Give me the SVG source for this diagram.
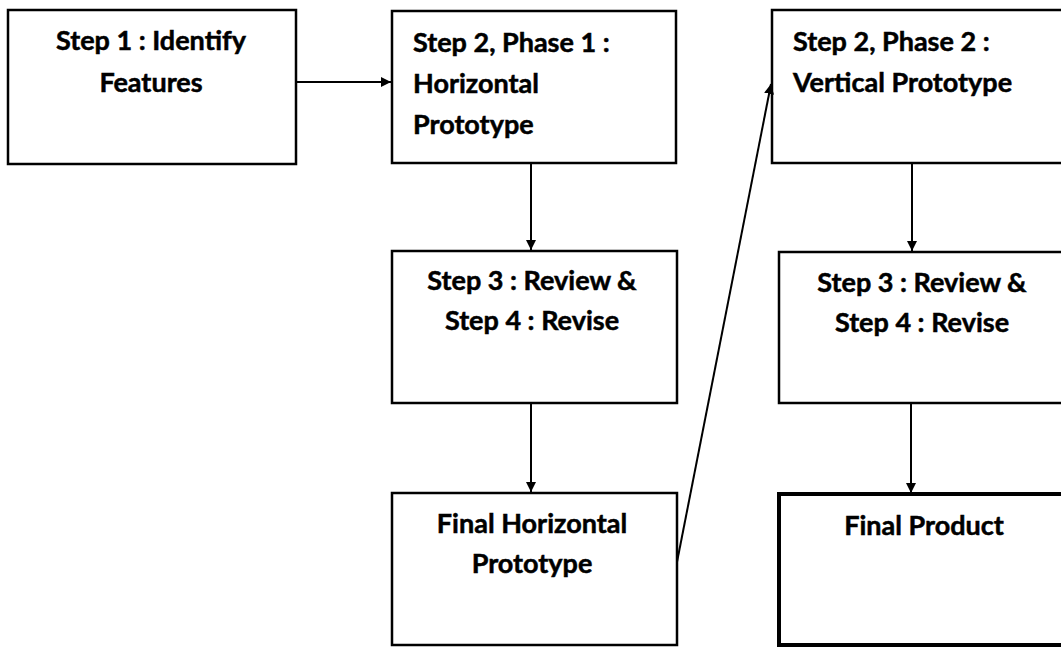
<svg xmlns="http://www.w3.org/2000/svg" width="1061" height="648" viewBox="0 0 1061 648">
<defs>
<style>
.box{fill:#fff;stroke:#000;stroke-width:2.5}
.thick{stroke-width:4}
.t{font-family:Lato,"Liberation Sans",sans-serif;font-weight:bold;font-size:27px;fill:#000;stroke:#000;stroke-width:0.5}
.c{text-anchor:middle}
.edge{stroke:#000;stroke-width:2;fill:none}
</style>
<marker id="arr" viewBox="0 0 10 10" refX="10" refY="5" markerWidth="5" markerHeight="5" orient="auto" markerUnits="strokeWidth">
<path d="M0,0 L10,5 L0,10 z" fill="#000"/>
</marker>
</defs>
<rect width="1061" height="648" fill="#fff"/>
<g id="n1">
<rect class="box" x="8" y="10" width="288" height="154"/>
<text class="t c" x="151" y="50">Step 1 : Identify</text>
<text class="t c" x="151" y="92">Features</text>
</g>
<g id="n2">
<rect class="box" x="392" y="11" width="284" height="152"/>
<text class="t" x="413" y="52">Step 2, Phase 1 :</text>
<text class="t" x="413" y="93">Horizontal</text>
<text class="t" x="413" y="134">Prototype</text>
</g>
<g id="n3">
<rect class="box" x="392" y="251" width="285" height="152"/>
<text class="t c" x="532" y="290">Step 3 : Review &amp;</text>
<text class="t c" x="532" y="330">Step 4 : Revise</text>
</g>
<g id="n4">
<rect class="box" x="392" y="493" width="285" height="152"/>
<text class="t c" x="532" y="533">Final Horizontal</text>
<text class="t c" x="532" y="573">Prototype</text>
</g>
<g id="n5">
<rect class="box" x="772" y="10" width="300" height="153"/>
<text class="t" x="793" y="51">Step 2, Phase 2 :</text>
<text class="t" x="793" y="92">Vertical Prototype</text>
</g>
<g id="n6">
<rect class="box" x="779" y="252" width="300" height="151"/>
<text class="t c" x="922" y="292">Step 3 : Review &amp;</text>
<text class="t c" x="922" y="332">Step 4 : Revise</text>
</g>
<g id="n7">
<rect class="box thick" x="779" y="494" width="300" height="151"/>
<text class="t c" x="924" y="535">Final Product</text>
</g>
<g id="connectors">
<line class="edge" x1="297" y1="82" x2="391" y2="82" marker-end="url(#arr)"/>
<line class="edge" x1="531" y1="164" x2="531" y2="250" marker-end="url(#arr)"/>
<line class="edge" x1="531" y1="404" x2="531" y2="492" marker-end="url(#arr)"/>
<line class="edge" x1="677" y1="562" x2="771" y2="84" marker-end="url(#arr)"/>
<line class="edge" x1="912" y1="164" x2="912" y2="251" marker-end="url(#arr)"/>
<line class="edge" x1="911" y1="404" x2="911" y2="493" marker-end="url(#arr)"/>
</g>
</svg>
